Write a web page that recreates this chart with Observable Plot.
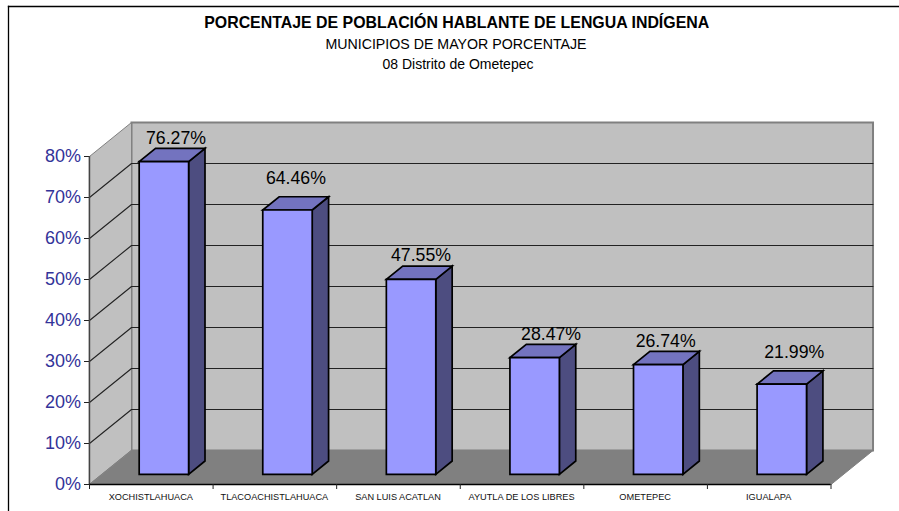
<!DOCTYPE html>
<html><head><meta charset="utf-8">
<script src="https://cdn.jsdelivr.net/npm/d3@7"></script>
<script src="https://cdn.jsdelivr.net/npm/@observablehq/plot@0.6"></script>
<style>html,body{margin:0;padding:0;background:#fff}svg{display:block}</style>
</head><body><div id="chart"></div>
<script>
const categories = ["XOCHISTLAHUACA","TLACOACHISTLAHUACA","SAN LUIS ACATLAN","AYUTLA DE LOS LIBRES","OMETEPEC","IGUALAPA"];
const shares = [76.27,64.46,47.55,28.47,26.74,21.99];
const shareLabels = ["76.27%","64.46%","47.55%","28.47%","26.74%","21.99%"];
const yTicks = [0,10,20,30,40,50,60,70,80];
const titleLines = ["PORCENTAJE DE POBLACIÓN HABLANTE DE LENGUA INDÍGENA","MUNICIPIOS DE MAYOR PORCENTAJE","08 Distrito de Ometepec"];

// 3-D projection, in data units: depth z from 0 (front) to 1 (back wall)
const depthX = 0.34, depthY = 8.3;
const P = (c, v, z) => [c + z * depthX, v + z * depthY];
const barHalf = 0.2, zFront = 0.30, zBack = 0.69;
const labelNudge = [[24.7,-28],[21,-36],[22.5,-29],[29,-28],[20,-28],[25,-36]];

const font = "'Liberation Sans', Arial, sans-serif";
const poly = (pts, o) => Plot.line(pts, {x: d => d[0], y: d => d[1], curve: "linear-closed", strokeMiterlimit: 10, strokeLinejoin: "miter", ...o});
const xEnd = categories.length, yEnd = yTicks[yTicks.length - 1];

const marks = [
  Plot.frame({anchor: "left", stroke: "#000", strokeWidth: 1.3}),
  Plot.frame({anchor: "top", stroke: "#000", strokeWidth: 1.3}),
  poly([P(0,0,1),P(xEnd,0,1),P(xEnd,yEnd,1),P(0,yEnd,1)], {fill: "#c0c0c0", stroke: "#808080", strokeWidth: 2}),
  poly([P(0,0,0),P(0,0,1),P(0,yEnd,1),P(0,yEnd,0)], {fill: "#c0c0c0", stroke: "#808080", strokeWidth: 1}),
  poly([P(0,0,0),P(xEnd,0,0),P(xEnd,0,1),P(0,0,1)], {fill: "#808080", stroke: "#808080", strokeWidth: 1}),
  ...yTicks.filter(t => t > 0 && t < yEnd).flatMap(t => [
    Plot.line([P(0,t,0),P(0,t,1),P(xEnd,t,1)], {x: d => d[0], y: d => d[1], stroke: "#222", strokeWidth: 1.1})
  ]),
  ...shares.flatMap((v, i) => {
    const a = i + 0.5 - barHalf, b = i + 0.5 + barHalf;
    const common = {stroke: "#000", strokeWidth: 1.7};
    return [
      poly([P(b,0,zFront),P(b,0,zBack),P(b,v,zBack),P(b,v,zFront)], {fill: "#4d4d80", ...common}),
      poly([P(a,v,zFront),P(b,v,zFront),P(b,v,zBack),P(a,v,zBack)], {fill: "#7373bf", ...common}),
      poly([P(a,0,zFront),P(b,0,zFront),P(b,v,zFront),P(a,v,zFront)], {fill: "#9999ff", ...common}),
      Plot.text([shareLabels[i]], {x: i + 0.5, y: v, text: d => d, dx: labelNudge[i][0], dy: labelNudge[i][1], fontSize: 17.7, fill: "#000", lineAnchor: "bottom", textAnchor: "middle"})
    ];
  }),
  Plot.axisY(yTicks, {anchor: "left", x: 0, tickSize: 5, tickPadding: 3.5, stroke: "#222", color: "#333399", fill: "#333399", fontSize: 18, tickFormat: d => d + "%", label: null}),
  Plot.ruleX([0], {y1: 0, y2: yEnd, stroke: "#444", strokeWidth: 1.4}),
  Plot.ruleY([0], {x1: 0, x2: xEnd, stroke: "#000", strokeWidth: 1.4}),
  Plot.axisX(d3.range(xEnd + 1), {anchor: "bottom", y: 0, tickSize: 5, tickFormat: () => "", stroke: "#222", label: null}),
  Plot.text(categories, {x: (d, i) => i + 0.5, y: 0, text: d => d, dx: -0.5, dy: 15, fontSize: 9.2, fill: "#111", textAnchor: "middle", lineAnchor: "bottom"}),
  Plot.text([titleLines[0]], {frameAnchor: "top", text: d => d, dx: 2.7, dy: 10, fontSize: 15.9, fontWeight: "bold", fill: "#000", lineAnchor: "top"}),
  Plot.text([titleLines[1]], {frameAnchor: "top", text: d => d, dx: 2, dy: 32, fontSize: 14.2, fill: "#000", lineAnchor: "top"}),
  Plot.text([titleLines[2]], {frameAnchor: "top", text: d => d, dx: 4, dy: 53, fontSize: 14, fill: "#000", lineAnchor: "top"})
];

const chart = Plot.plot({
  width: 899, height: 511,
  marginLeft: 8, marginTop: 6, marginRight: 0, marginBottom: 0,
  style: {background: "#fff", fontFamily: font},
  x: {domain: [0, xEnd], range: [89, 830.5], axis: null},
  y: {domain: [0, yEnd], range: [484, 156], axis: null},
  marks
});
document.getElementById("chart").append(chart);
</script></body></html>
